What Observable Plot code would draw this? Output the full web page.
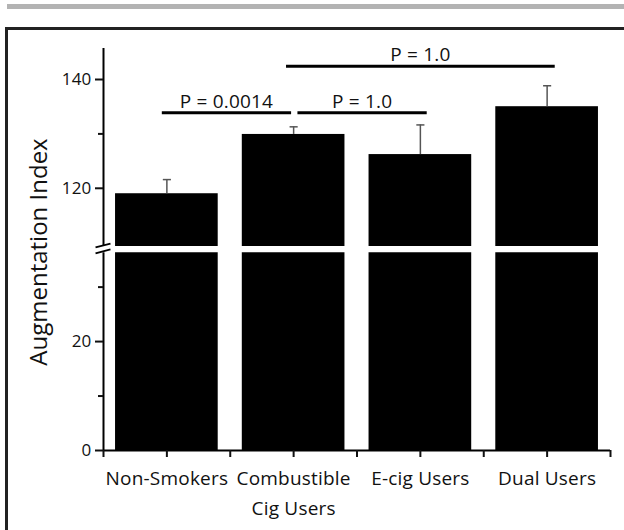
<!DOCTYPE html>
<html>
<head>
<meta charset="utf-8">
<script src="https://cdn.jsdelivr.net/npm/d3@7"></script>
<script src="https://cdn.jsdelivr.net/npm/@observablehq/plot@0.6"></script>
<style>
  html, body { margin: 0; padding: 0; background: #fff; }
  #wrap { position: relative; width: 624px; height: 530px; overflow: hidden; background: #fff; font-family: "Open Sans", sans-serif; }
  #topbar { position: absolute; left: 7px; top: 4px; width: 617px; height: 5px; background: #b3b3b3; }
  #frameTop { position: absolute; left: 5px; top: 27px; width: 619px; height: 2.5px; background: #222; }
  #frameLeft { position: absolute; left: 5px; top: 27px; width: 2.5px; height: 503px; background: #222; }
  #lower, #upper { position: absolute; left: 0; }
  #lower { top: 246px; }
  #upper { top: 0; pointer-events: none; }
  #ylabel { position: absolute; left: 37px; top: 252px; transform: translate(-50%, -50%) rotate(-90deg);
            white-space: nowrap; font-size: 24px; color: #111; font-family: "Open Sans", sans-serif; }
  svg text { letter-spacing: 0.2px; }
</style>
</head>
<body>
<div id="wrap">
  <div id="topbar"></div>
  <div id="frameTop"></div>
  <div id="frameLeft"></div>
  <div id="lower"></div>
  <div id="upper"></div>
  <div id="ylabel">Augmentation Index</div>
</div>
<script>
// ---- data ----
const categories = ["Non-Smokers", "Combustible\nCig Users", "E-cig Users", "Dual Users"];
const means = [119.0, 129.9, 126.2, 135.0];
const sems = [2.6, 1.4, 5.45, 3.85];

// significance brackets (positions in category-index units, 1..4)
const pLabels = ["P = 0.0014", "P = 1.0", "P = 1.0"];
const pFrom = [0.96, 2.03, 1.94];
const pTo = [1.98, 3.05, 4.06];
const pLevel = [133.9, 133.9, 142.45];

// axis ticks
const upperMajor = [120, 140];
const upperMinor = [130];
const lowerMajor = [0, 20];
const lowerMinor = [10, 30];
const upperDomain = [109.3, 145.7];
const lowerDomain = [0, 36.3];

const data = categories.map((c, k) => ({i: k + 1, cat: c, mean: means[k], sem: sems[k]}));
const brackets = pLabels.map((t, k) => ({text: t, x1: pFrom[k], x2: pTo[k], y: pLevel[k]}));
const half = 0.405; // half bar width in category units

const xScale = {domain: [0.5, 4.5], axis: null};
const common = {width: 624, marginLeft: 103, marginRight: 14, style: {background: "transparent", fontFamily: "Open Sans", color: "#111", overflow: "visible"}};

// ---- lower panel ----
const lower = Plot.plot({
  ...common,
  height: 284, marginTop: 6.3, marginBottom: 80,
  x: xScale,
  y: {domain: lowerDomain, axis: null},
  marks: [
    Plot.rect(data, {x1: d => d.i - half, x2: d => d.i + half, y1: d => 0, y2: "mean", fill: "black", clip: true}),
    Plot.ruleY([0], {stroke: "black", strokeWidth: 2}),
    Plot.ruleX([0.5], {stroke: "black", strokeWidth: 2}),
    Plot.axisY({ticks: lowerMajor, tickSize: 8, tickPadding: 4, fontSize: 17, strokeWidth: 2, label: null}),
    Plot.axisY({ticks: lowerMinor, tickSize: 5, tickFormat: () => "", strokeWidth: 2, label: null}),
    Plot.axisX({ticks: [1, 2, 3, 4], tickFormat: i => categories[i - 1], tickSize: 7, tickPadding: 6,
                fontSize: 19, lineHeight: 1.6, strokeWidth: 2, label: null}),
    Plot.axisX({ticks: d3.range(0.5, 5, 1), tickFormat: () => "", tickSize: 7, strokeWidth: 2, label: null})
  ]
});
document.getElementById("lower").appendChild(lower);

// ---- upper panel ----
const upper = Plot.plot({
  ...common,
  height: 262, marginTop: 48, marginBottom: 16,
  x: xScale,
  y: {domain: upperDomain, axis: null},
  marks: [
    Plot.rect(data, {x1: d => d.i - half, x2: d => d.i + half, y1: d => 0, y2: "mean", fill: "black", clip: true}),
    Plot.ruleX(data, {x: "i", y1: "mean", y2: d => d.mean + d.sem, stroke: "#555", strokeWidth: 1.5}),
    Plot.link(data, {x1: d => d.i - 0.032, x2: d => d.i + 0.032, y1: d => d.mean + d.sem, y2: d => d.mean + d.sem, stroke: "#555", strokeWidth: 1.5}),
    Plot.ruleX([0.5], {stroke: "black", strokeWidth: 2}),
    Plot.axisY({ticks: upperMajor, tickSize: 8, tickPadding: 4, fontSize: 17, strokeWidth: 2, label: null}),
    Plot.axisY({ticks: upperMinor, tickSize: 5, tickFormat: () => "", strokeWidth: 2, label: null}),
    Plot.link(brackets, {x1: "x1", x2: "x2", y1: "y", y2: "y", stroke: "black", strokeWidth: 3}),
    Plot.text(brackets, {x: d => (d.x1 + d.x2) / 2, y: "y", text: "text", dy: -5, lineAnchor: "bottom", fontSize: 19, fill: "#111"}),
    // axis break marks
    Plot.link([{a: 109.12, b: 109.85}, {a: 108.02, b: 108.76}], {x1: 0.5 - 0.063, x2: 0.5 + 0.055, y1: "a", y2: "b", stroke: "black", strokeWidth: 1.8})
  ]
});
document.getElementById("upper").appendChild(upper);
</script>
</body>
</html>
